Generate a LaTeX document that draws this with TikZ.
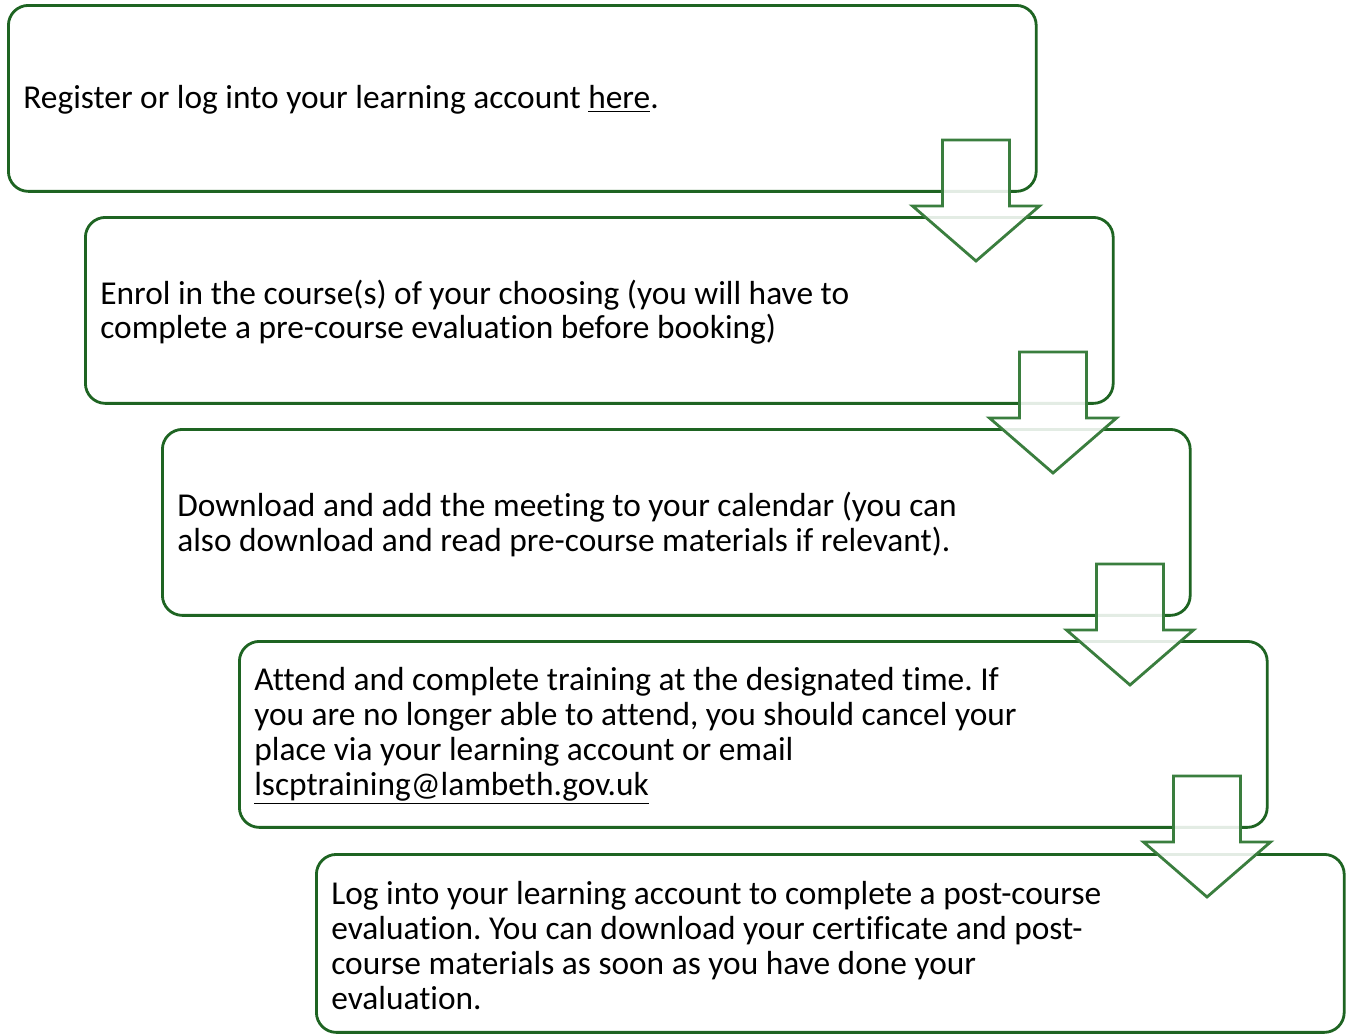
\documentclass[tikz,border=0pt]{standalone}
\usepackage{fontspec}
\setmainfont[Ligatures=NoCommon]{Carlito}
\usepackage{tikz}
\frenchspacing
\definecolor{boxgreen}{RGB}{30,100,34}
\definecolor{arrowgreen}{RGB}{58,126,62}
\tikzset{
    stepbox/.style={draw=boxgreen, line width=1.6pt, rounded corners=0.4cm, minimum width=20.56cm, minimum height=3.72cm, anchor=north west},
    steptext/.style={anchor=west, align=left, inner sep=0pt, font=\fontsize{19}{19.9}\selectfont},
    downarrow/.style={draw=arrowgreen, line width=1.6pt, fill=white, fill opacity=0.88, miter limit=10}
}

\begin{document}
\begin{tikzpicture}[x=0.02cm, y=-0.02cm]
    \useasboundingbox (0,0) rectangle (1348,1035);
    \node[stepbox] (box1) at (7,4) {};
    \node[stepbox] (box2) at (84,216) {};
    \node[stepbox] (box3) at (161,428) {};
    \node[stepbox] (box4) at (238,640) {};
    \node[stepbox, minimum height=3.56cm] (box5) at (315,853) {};
    \node[steptext] (text1) at ([xshift=0.32cm,yshift=-1pt]box1.west) {Register or log into your learning account \underline{here}.};
    \node[steptext] (text2) at ([xshift=0.32cm,yshift=-1pt]box2.west) {Enrol in the course(s) of your choosing (you will have to\\complete a pre-course evaluation before booking)};
    \node[steptext] (text3) at ([xshift=0.32cm,yshift=-1pt]box3.west) {Download and add the meeting to your calendar (you can\\also download and read pre-course materials if relevant).};
    \node[steptext] (text4) at ([xshift=0.32cm,yshift=-1pt]box4.west) {Attend and complete training at the designated time. If\\you are no longer able to attend, you should cancel your\\place via your learning account or email\\\underline{lscptraining@lambeth.gov.uk}};
    \node[steptext] (text5) at ([xshift=0.32cm,yshift=-1pt]box5.west) {Log into your learning account to complete a post-course\\evaluation. You can download your certificate and post-\\course materials as soon as you have done your\\evaluation.};
    \foreach \i in {0,1,2,3}
    \draw[downarrow] (976+77*\i-33.5,140+212*\i) -- (976+77*\i+33.5,140+212*\i)
        -- (976+77*\i+33.5,206+212*\i) -- (976+77*\i+63.5,206+212*\i)
        -- (976+77*\i,261+212*\i) -- (976+77*\i-63.5,206+212*\i)
        -- (976+77*\i-33.5,206+212*\i) -- cycle;
\end{tikzpicture}
\end{document}
